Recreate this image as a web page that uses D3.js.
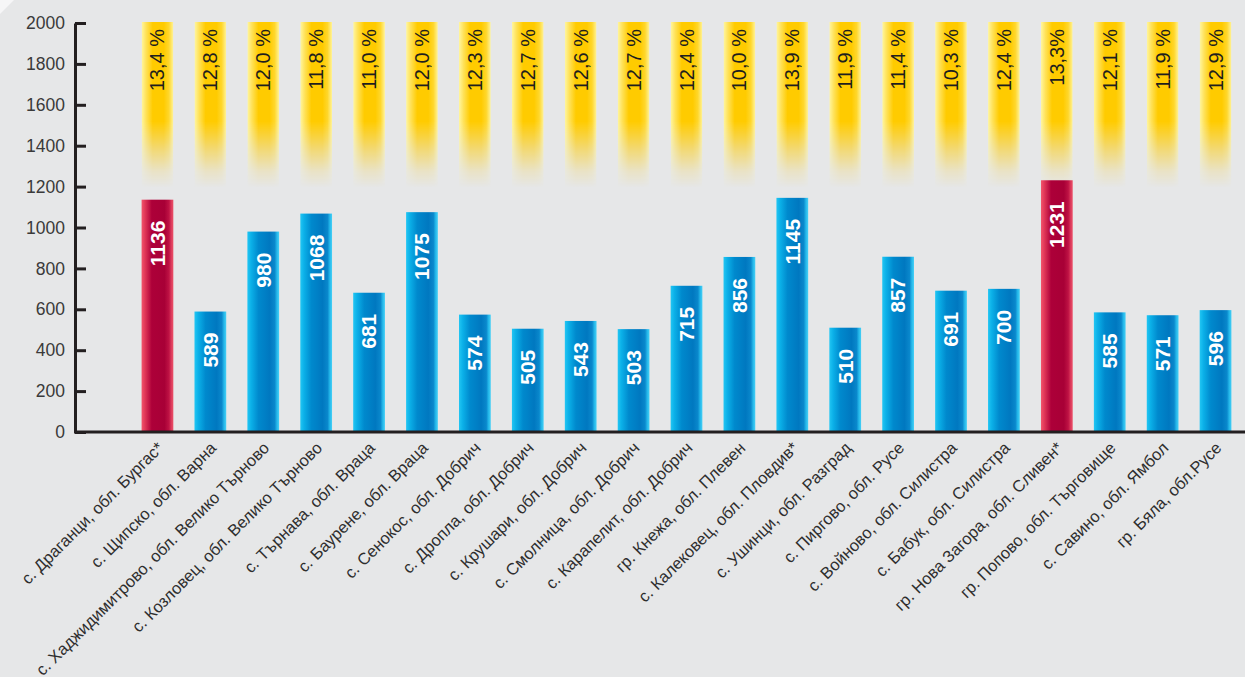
<!DOCTYPE html>
<html>
<head>
<meta charset="utf-8">
<script src="https://cdn.jsdelivr.net/npm/d3@7"></script>
<style>
  html, body { margin: 0; padding: 0; background: #e6e7e8; }
  svg { display: block; font-family: "Liberation Sans", Arial, sans-serif; }
</style>
</head>
<body>
<div id="chart"></div>
<script>
var places = [
  "с. Драганци, обл. Бургас*",
  "с. Щипско, обл. Варна",
  "с. Хаджидимитрово, обл. Велико Търново",
  "с. Козловец, обл. Велико Търново",
  "с. Търнава, обл. Враца",
  "с. Баурене, обл. Враца",
  "с. Сенокос, обл. Добрич",
  "с. Дропла, обл. Добрич",
  "с. Крушари, обл. Добрич",
  "с. Смолница, обл. Добрич",
  "с. Карапелит, обл. Добрич",
  "гр. Кнежа, обл. Плевен",
  "с. Калековец, обл. Пловдив*",
  "с. Ушинци, обл. Разград",
  "с. Пиргово, обл. Русе",
  "с. Войново, обл. Силистра",
  "с. Бабук, обл. Силистра",
  "гр. Нова Загора, обл. Сливен*",
  "гр. Попово, обл. Търговище",
  "с. Савино, обл. Ямбол",
  "гр. Бяла, обл.Русе"
];
var values = [1136, 589, 980, 1068, 681, 1075, 574, 505, 543, 503, 715, 856, 1145, 510, 857, 691, 700, 1231, 585, 571, 596];
var shares = ["13,4 %", "12,8 %", "12,0 %", "11,8 %", "11,0 %", "12,0 %", "12,3 %", "12,7 %", "12,6 %", "12,7 %",
              "12,4 %", "10,0 %", "13,9 %", "11,9 %", "11,4 %", "10,3 %", "12,4 %", "13,3%", "12,1 %", "11,9 %", "12,9 %"];
var highlighted = ["с. Драганци, обл. Бургас*", "гр. Нова Загора, обл. Сливен*"];
var yTicks = [0, 200, 400, 600, 800, 1000, 1200, 1400, 1600, 1800, 2000];

var width = 1245, height = 677;

var svg = d3.select("#chart").append("svg")
    .attr("width", width)
    .attr("height", height);

svg.append("rect").attr("width", width).attr("height", height).attr("fill", "#e6e7e8");
svg.append("polygon").attr("points", "0,0 14,0 0,14").attr("fill", "#f6f6f7");

var defs = svg.append("defs");

function hGrad(id, stops) {
  var g = defs.append("linearGradient").attr("id", id)
      .attr("x1", 0).attr("x2", 1).attr("y1", 0).attr("y2", 0);
  stops.forEach(function(s) {
    g.append("stop").attr("offset", s[0]).attr("stop-color", s[1]);
  });
}
hGrad("blueGrad", [[0, "#22c6f3"], [0.12, "#0bb0e8"], [0.35, "#0089cd"], [0.7, "#0078c0"], [0.86, "#0a88cc"], [0.93, "#25b8ea"], [1, "#46d0f6"]]);
hGrad("redGrad", [[0, "#f2556c"], [0.12, "#de3456"], [0.32, "#ad0039"], [0.72, "#a80036"], [0.86, "#be1244"], [0.94, "#dd3c5c"], [1, "#ec5068"]]);
hGrad("yellowGrad", [[0, "#fff6a0"], [0.14, "#ffe25a"], [0.35, "#ffcb00"], [0.7, "#ffcb00"], [0.86, "#ffd72c"], [1, "#fff39a"]]);

// vertical fade of the yellow columns
var fade = defs.append("linearGradient").attr("id", "fadeGrad")
    .attr("x1", 0).attr("x2", 0).attr("y1", 0).attr("y2", 1);
fade.append("stop").attr("offset", 0).attr("stop-color", "white");
fade.append("stop").attr("offset", 0.6).attr("stop-color", "white");
fade.append("stop").attr("offset", 0.78).attr("stop-color", "#777");
fade.append("stop").attr("offset", 0.9).attr("stop-color", "#262626");
fade.append("stop").attr("offset", 1).attr("stop-color", "black");
defs.append("mask").attr("id", "fadeMask")
    .attr("maskContentUnits", "objectBoundingBox")
  .append("rect").attr("width", 1).attr("height", 1).attr("fill", "url(#fadeGrad)");

var x = d3.scaleBand()
    .domain(places)
    .range([131, 1242])
    .paddingInner(0.4)
    .paddingOuter(0.2);

var y = d3.scaleLinear()
    .domain([0, 2000])
    .range([432, 23]);

// yellow share columns
var tops = svg.append("g").attr("class", "shares");
tops.selectAll("rect")
    .data(places)
  .enter().append("rect")
    .attr("x", function(d) { return x(d); })
    .attr("y", y(2000) - 1)
    .attr("width", x.bandwidth())
    .attr("height", y(1190) - y(2000))
    .attr("fill", "url(#yellowGrad)")
    .attr("mask", "url(#fadeMask)");

tops.selectAll("text")
    .data(places)
  .enter().append("text")
    .attr("transform", function(d) { return "translate(" + (x(d) + x.bandwidth() / 2) + "," + 29 + ") rotate(-90)"; })
    .attr("text-anchor", "end")
    .attr("dy", "0.35em")
    .attr("font-size", "20px")
    .attr("fill", "#1e1e1e")
    .text(function(d, i) { return shares[i]; });

// bars
var bars = svg.append("g").attr("class", "bars");
bars.selectAll("rect")
    .data(places)
  .enter().append("rect")
    .attr("x", function(d) { return x(d); })
    .attr("y", function(d, i) { return y(values[i]); })
    .attr("width", x.bandwidth())
    .attr("height", function(d, i) { return y(0) - y(values[i]); })
    .attr("fill", function(d) { return highlighted.indexOf(d) >= 0 ? "url(#redGrad)" : "url(#blueGrad)"; });

bars.selectAll("text")
    .data(places)
  .enter().append("text")
    .attr("transform", function(d, i) { return "translate(" + (x(d) + x.bandwidth() / 2) + "," + (y(values[i]) + 21) + ") rotate(-90)"; })
    .attr("text-anchor", "end")
    .attr("dy", "0.35em")
    .attr("font-size", "21px")
    .attr("font-weight", "bold")
    .attr("fill", "#ffffff")
    .text(function(d, i) { return values[i]; });

// y axis
var yAxis = svg.append("g")
    .attr("transform", "translate(75,0)")
    .call(d3.axisLeft(y).tickValues(yTicks).tickFormat(d3.format("d"))
      .tickSize(-11).tickSizeOuter(0).tickPadding(10));
yAxis.select(".domain").attr("stroke", "#231f20").attr("stroke-width", 3);
yAxis.selectAll(".tick line").attr("stroke", "#231f20").attr("stroke-width", 3);
yAxis.selectAll(".tick text")
    .attr("fill", "#3a3a3a")
    .attr("font-size", "17.5px")
    .attr("font-family", "Liberation Sans, Arial, sans-serif");

// x axis baseline and labels
svg.append("line")
    .attr("x1", 74).attr("x2", width)
    .attr("y1", y(0)).attr("y2", y(0))
    .attr("stroke", "#231f20")
    .attr("stroke-width", 3);

svg.append("g").attr("class", "x-labels")
  .selectAll("text")
    .data(places)
  .enter().append("text")
    .attr("transform", function(d) { return "translate(" + (x(d) + x.bandwidth() / 2 + 7) + "," + 449 + ") rotate(-45)"; })
    .attr("text-anchor", "end")
    .attr("font-size", "16.5px")
    .attr("fill", "#2e2e2e")
    .text(function(d) { return d; });
</script>
</body>
</html>
